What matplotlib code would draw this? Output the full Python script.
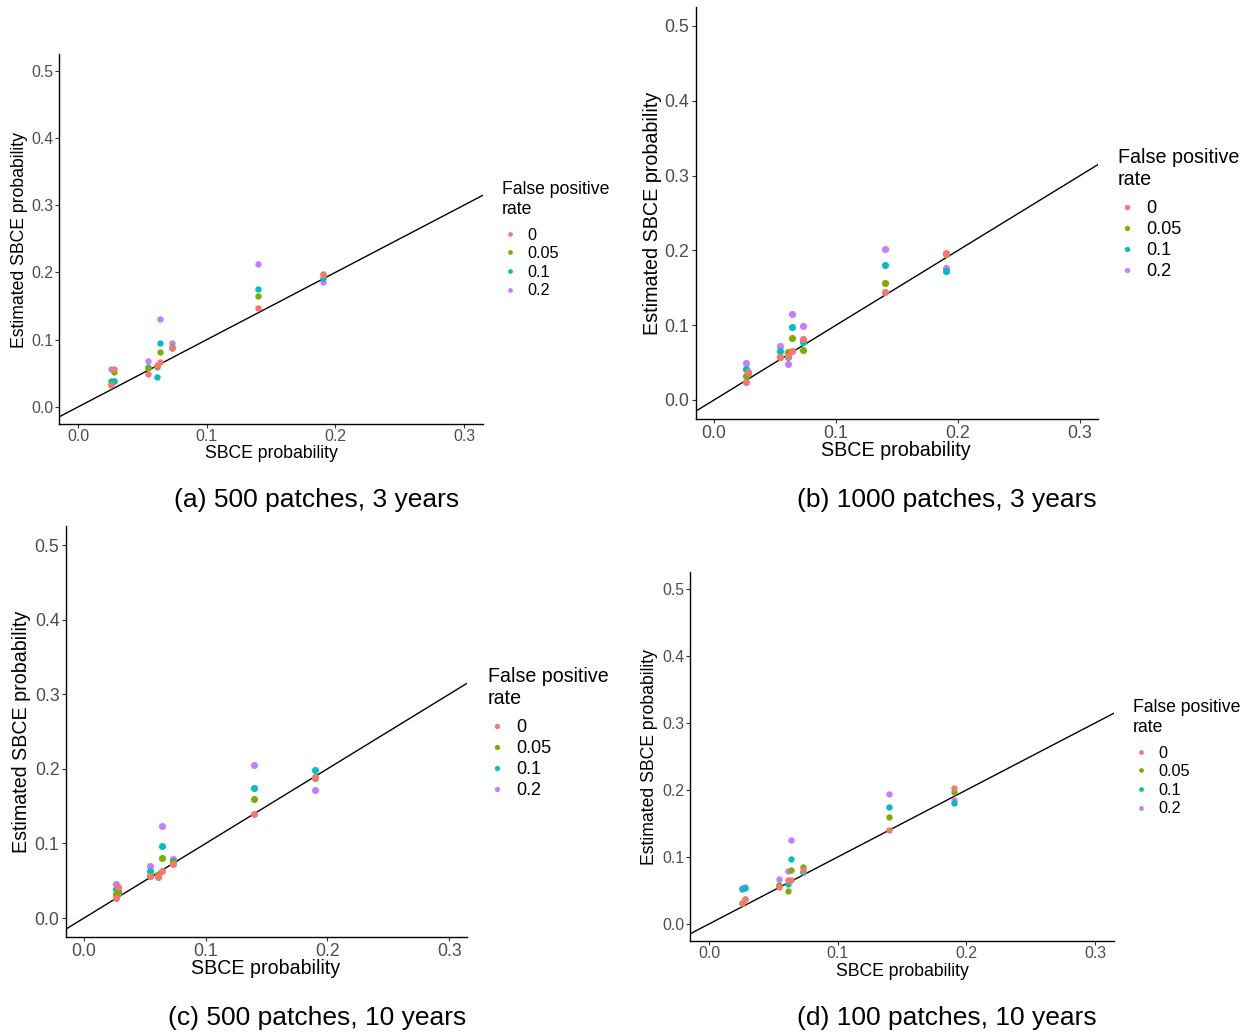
import matplotlib
matplotlib.use("Agg")
import matplotlib.pyplot as plt
from matplotlib.lines import Line2D

plt.rcParams["font.family"] = ["Liberation Sans", "DejaVu Sans"]

W, H = 1246, 1034

RATES = ["0", "0.05", "0.1", "0.2"]
COLORS = ["#F8766D", "#7CAE00", "#00BFC4", "#C77CFF"]

# true SBCE probability of each scenario (shared by all panels)
sbce = [0.026, 0.028, 0.054, 0.061, 0.064, 0.073, 0.140, 0.190]

# estimated probabilities, one list per false positive rate
est_a_0 = [0.032, 0.056, 0.049, 0.062, 0.067, 0.088, 0.147, 0.196]
est_a_05 = [0.034, 0.052, 0.058, 0.061, 0.081, 0.089, 0.165, 0.197]
est_a_1 = [0.039, 0.038, 0.059, 0.044, 0.095, 0.088, 0.175, 0.192]
est_a_2 = [0.056, 0.039, 0.069, 0.060, 0.130, 0.095, 0.213, 0.186]

est_b_0 = [0.024, 0.038, 0.057, 0.059, 0.066, 0.081, 0.145, 0.197]
est_b_05 = [0.032, 0.036, 0.057, 0.064, 0.083, 0.067, 0.157, 0.195]
est_b_1 = [0.041, 0.037, 0.066, 0.058, 0.098, 0.078, 0.180, 0.173]
est_b_2 = [0.050, 0.036, 0.072, 0.048, 0.115, 0.099, 0.202, 0.176]

est_c_0 = [0.027, 0.042, 0.057, 0.055, 0.063, 0.073, 0.140, 0.189]
est_c_05 = [0.032, 0.035, 0.057, 0.058, 0.080, 0.075, 0.160, 0.188]
est_c_1 = [0.039, 0.036, 0.063, 0.056, 0.097, 0.076, 0.175, 0.199]
est_c_2 = [0.046, 0.033, 0.070, 0.057, 0.124, 0.079, 0.205, 0.172]

est_d_0 = [0.032, 0.038, 0.055, 0.066, 0.065, 0.080, 0.141, 0.203]
est_d_05 = [0.031, 0.037, 0.058, 0.050, 0.081, 0.085, 0.160, 0.197]
est_d_1 = [0.052, 0.054, 0.056, 0.059, 0.097, 0.077, 0.175, 0.180]
est_d_2 = [0.053, 0.055, 0.067, 0.079, 0.125, 0.077, 0.194, 0.185]

captions = ["(a) 500 patches, 3 years", "(b) 1000 patches, 3 years",
            "(c) 500 patches, 10 years", "(d) 100 patches, 10 years"]

x_ticks = [0.0, 0.1, 0.2, 0.3]
y_ticks = [0.0, 0.1, 0.2, 0.3, 0.4, 0.5]


def fx(px):
    return px / W


def fy(py):
    return 1 - py / H


def draw_panel(fig, box, series, scale, xlab_pos, ylab_pos, legend_pos, caption, caption_pos):
    left, top, right, bottom = box
    ax = fig.add_axes([fx(left), fy(bottom), fx(right - left), (bottom - top) / H])
    title_size = 12.7 * scale
    text_size = 11.7 * scale

    for est, color in reversed(list(zip(series, COLORS))):
        ax.scatter(sbce, est, s=21 * scale ** 2, color=color, linewidths=0, zorder=3)
    ax.axline((0, 0), slope=1, color="black", linewidth=1.0, zorder=2)

    ax.set_xlim(-0.015, 0.315)
    ax.set_ylim(-0.025, 0.525)
    ax.set_xticks(x_ticks)
    ax.set_yticks(y_ticks)
    ax.set_xticklabels([f"{t:.1f}" for t in x_ticks])
    ax.set_yticklabels([f"{t:.1f}" for t in y_ticks])
    ax.tick_params(length=2.7 * scale, width=0.8, color="#333333", labelcolor="#4D4D4D",
                   labelsize=text_size * 0.98, pad=1.4 * scale)
    for side in ("top", "right"):
        ax.spines[side].set_visible(False)
    for side in ("left", "bottom"):
        ax.spines[side].set_linewidth(1.0)

    ax.set_xlabel("SBCE probability", fontsize=title_size, va="center")
    ax.xaxis.set_label_coords(fx(xlab_pos[0]), fy(xlab_pos[1]), transform=fig.transFigure)
    ax.set_ylabel("Estimated SBCE probability", fontsize=title_size, va="center")
    ax.yaxis.set_label_coords(fx(ylab_pos[0]), fy(ylab_pos[1]), transform=fig.transFigure)

    handles = [Line2D([], [], linestyle="none", marker="o", markersize=3.4 * scale,
                      markerfacecolor=c, markeredgewidth=0) for c in COLORS]
    leg = fig.legend(handles, RATES, title="False positive\nrate", loc="upper left",
                     bbox_to_anchor=(fx(legend_pos[0]), fy(legend_pos[1])),
                     frameon=False, fontsize=text_size, title_fontsize=title_size,
                     handlelength=1.0, handletextpad=0.55, labelspacing=0.22,
                     borderpad=0, borderaxespad=0)
    leg._legend_box.align = "left"
    leg._legend_box.sep = 7.2 * scale

    fig.text(fx(caption_pos[0]), fy(caption_pos[1]), caption, fontsize=19,
             ha="center", va="center", color="black")
    return ax


fig = plt.figure(figsize=(W / 100, H / 100), dpi=100)

draw_panel(fig, (58.7, 53.7, 483.4, 423.8), [est_a_0, est_a_05, est_a_1, est_a_2], 1.0,
           (271, 453), (20, 240), (502, 181), captions[0], (317, 500))
draw_panel(fig, (695.7, 7.3, 1098.3, 418.7), [est_b_0, est_b_05, est_b_1, est_b_2], 1.12,
           (896, 451), (652, 213), (1118, 148), captions[1], (947, 500))
draw_panel(fig, (65.7, 526.4, 467.4, 936.7), [est_c_0, est_c_05, est_c_1, est_c_2], 1.11,
           (266, 969), (22, 732), (488, 667), captions[2], (317, 1018))
draw_panel(fig, (689.7, 572.25, 1114.4, 940.75), [est_d_0, est_d_05, est_d_1, est_d_2], 1.0,
           (902, 971), (650, 757), (1133, 699), captions[3], (947, 1018))

fig.savefig("out.png", dpi=100)
